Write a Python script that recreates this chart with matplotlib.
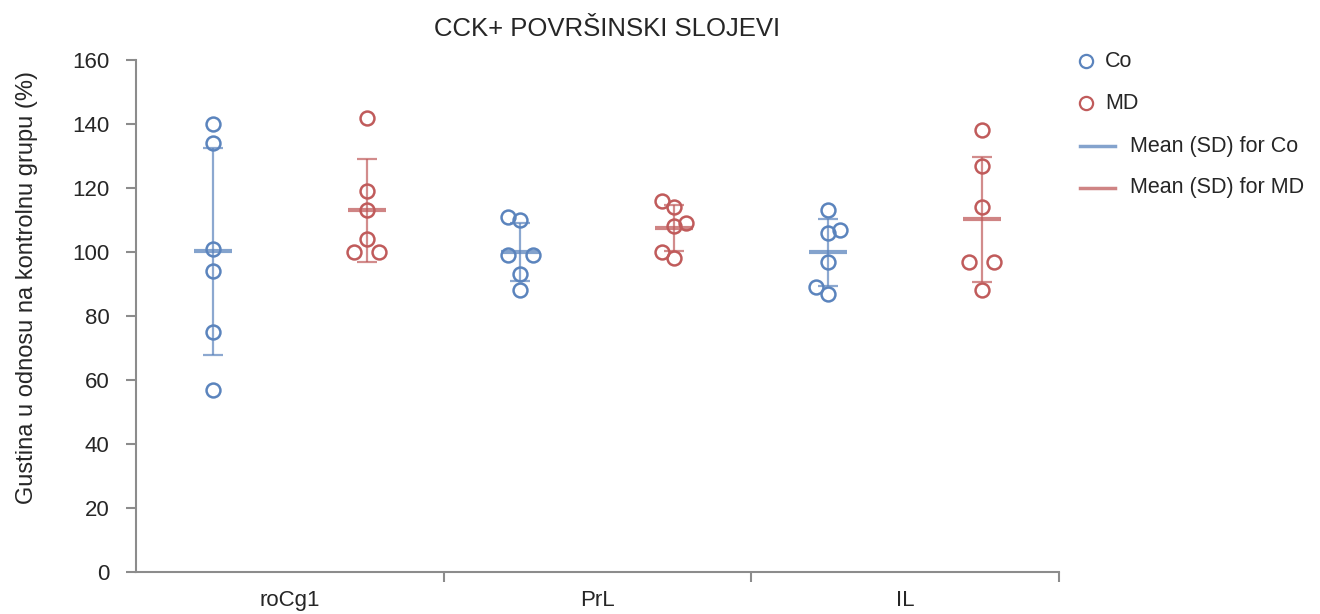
import numpy as np
import matplotlib
matplotlib.use("Agg")
from matplotlib import pyplot as plt
from matplotlib.lines import Line2D

plt.rcParams["font.family"] = ["Liberation Sans", "DejaVu Sans"]

# values
regions = ["roCg1", "PrL", "IL"]
co_values = [
    [140, 134, 101, 94, 75, 57],
    [111, 110, 99, 99, 93, 88],
    [113, 106, 107, 97, 89, 87],
]
md_values = [
    [142, 119, 113, 104, 100, 100],
    [116, 114, 108, 109, 100, 98],
    [138, 127, 114, 97, 97, 88],
]
# horizontal dodge of overlapping points (-1 left, 0 centre, 1 right)
co_dodge = [
    [0, 0, 0, 0, 0, 0],
    [-1, 0, -1, 1, 0, 0],
    [0, 0, 1, 0, -1, 0],
]
md_dodge = [
    [0, 0, 0, 0, -1, 1],
    [-1, 0, 0, 1, -1, 0],
    [0, 0, 0, -1, 1, 0],
]
yticks = [0, 20, 40, 60, 80, 100, 120, 140, 160]

title = "CCK+ POVRŠINSKI SLOJEVI"
ylabel = "Gustina u odnosu na kontrolnu grupu (%)"

blue = "#5b84bd"
red = "#c05b5b"
grey = "#8c8c8c"
text_col = "#262626"

fig = plt.figure(figsize=(13.2, 6.14), dpi=100)
ax = fig.add_axes([0.103, 0.0684, 0.699, 0.834])

offset = 0.25
step = 0.04
for i in range(len(regions)):
    for vals, dodge, col, sgn in ((co_values[i], co_dodge[i], blue, -1),
                                  (md_values[i], md_dodge[i], red, 1)):
        x0 = i + sgn * offset
        v = np.array(vals, dtype=float)
        m = v.mean()
        sd = v.std(ddof=1)
        ax.errorbar([x0], [m], yerr=[sd], fmt="none", ecolor=col,
                    elinewidth=1.6, capsize=7, capthick=1.6, alpha=0.7,
                    zorder=2)
        ax.plot([x0 - 0.062, x0 + 0.062], [m, m], color=col, lw=3,
                alpha=0.75, solid_capstyle="butt", zorder=2)
        xs = [x0 + d * step for d in dodge]
        ax.plot(xs, vals, "o", ms=10, mfc="none", mec=col, mew=1.8,
                zorder=3)

ax.set_xlim(-0.5, 2.5)
ax.set_ylim(0, 160)
ax.set_yticks(yticks)
ax.set_xticks(range(len(regions)))
ax.set_xticklabels(regions)
ax.set_xticks([0.5, 1.5, 2.5], minor=True)

for s in ("top", "right"):
    ax.spines[s].set_visible(False)
for s in ("left", "bottom"):
    ax.spines[s].set_color(grey)
    ax.spines[s].set_linewidth(1.5)

ax.tick_params(axis="y", direction="out", length=7, width=1.5, color=grey,
               labelsize=16, labelcolor=text_col, pad=12)
ax.tick_params(axis="x", which="major", length=0, labelsize=16,
               labelcolor=text_col, pad=13)
ax.tick_params(axis="x", which="minor", direction="out", length=7,
               width=1.5, color=grey)

ax.set_ylabel(ylabel, fontsize=17, color=text_col)
ax.yaxis.set_label_coords(-0.106, 0.555)
fig.text(0.46, 0.952, title, fontsize=18.5, color=text_col,
         ha="center", va="center")

# legend drawn by hand to match the reference layout
rows = [0.900, 0.832, 0.762, 0.694]
labels = ["Co", "MD", "Mean (SD) for Co", "Mean (SD) for MD"]
for k, (yy, lab) in enumerate(zip(rows, labels)):
    col = blue if k % 2 == 0 else red
    if k < 2:
        fig.add_artist(Line2D([0.8225], [yy], marker="o", ms=9.5,
                              mfc="none", mec=col, mew=1.6,
                              transform=fig.transFigure))
        tx = 0.837
    else:
        fig.add_artist(Line2D([0.8185, 0.845], [yy, yy], color=col, lw=2.5,
                              alpha=0.75, transform=fig.transFigure))
        tx = 0.856
    fig.text(tx, yy, lab, fontsize=15.5, color=text_col, va="center")

fig.savefig("out.png", dpi=100)
